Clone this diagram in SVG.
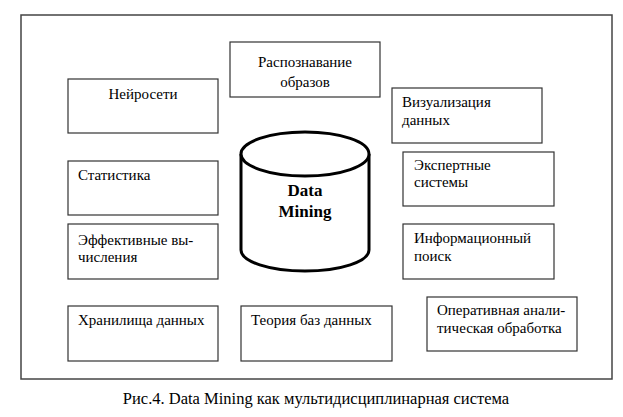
<svg xmlns="http://www.w3.org/2000/svg" width="623" height="417" viewBox="0 0 623 417">
<rect width="623" height="417" fill="#fff"/>
<rect x="21" y="15" width="591" height="364" fill="#fff" stroke="#444" stroke-width="1.5"/>
<g id="connectors"/>
<g fill="#fff" stroke="#333" stroke-width="1.2">
<rect id="r-neuro" x="68" y="79" width="150" height="54"/>
<rect id="r-stat" x="68" y="161" width="150" height="54"/>
<rect id="r-eff" x="68" y="224" width="150" height="55"/>
<rect id="r-store" x="68" y="306" width="150" height="55"/>
<rect id="r-dbtheory" x="241" y="306" width="151" height="55"/>
<rect id="r-pattern" x="230" y="42" width="150" height="55"/>
<rect id="r-vis" x="392" y="88" width="150" height="55"/>
<rect id="r-expert" x="403" y="152" width="151" height="54"/>
<rect id="r-ir" x="403" y="224" width="151" height="55"/>
<rect id="r-olap" x="427" y="297" width="150" height="54"/>
</g>
<g id="n-dm" fill="#fff" stroke="#000" stroke-width="3">
<path d="M241,154 L241,250 A64,21 0 0 0 369,250 L369,154"/>
<ellipse cx="305" cy="154" rx="64" ry="22"/>
</g>
<text x="143" y="99" text-anchor="middle" font-family="'Liberation Serif', monospace" font-size="15">Нейросети</text>
<text x="78" y="180" font-family="'Liberation Serif', monospace" font-size="15">Статистика</text>
<text x="78" y="245" font-family="'Liberation Serif', monospace" font-size="15">Эффективные вы-</text>
<text x="78" y="262" font-family="'Liberation Serif', monospace" font-size="15">числения</text>
<text x="78" y="325" font-family="'Liberation Serif', monospace" font-size="15">Хранилища данных</text>
<text x="251" y="325" font-family="'Liberation Serif', monospace" font-size="15">Теория баз данных</text>
<text x="305" y="67" text-anchor="middle" font-family="'Liberation Serif', monospace" font-size="15">Распознавание</text>
<text x="305" y="87" text-anchor="middle" font-family="'Liberation Serif', monospace" font-size="15">образов</text>
<text x="402" y="107" font-family="'Liberation Serif', monospace" font-size="15">Визуализация</text>
<text x="402" y="125" font-family="'Liberation Serif', monospace" font-size="15">данных</text>
<text x="414" y="170" font-family="'Liberation Serif', monospace" font-size="15">Экспертные</text>
<text x="414" y="187" font-family="'Liberation Serif', monospace" font-size="15">системы</text>
<text x="414" y="243" font-family="'Liberation Serif', monospace" font-size="15">Информационный</text>
<text x="414" y="261" font-family="'Liberation Serif', monospace" font-size="15">поиск</text>
<text x="437" y="315" font-family="'Liberation Serif', monospace" font-size="15">Оперативная анали-</text>
<text x="437" y="333" font-family="'Liberation Serif', monospace" font-size="15">тическая обработка</text>
<text x="305" y="196" text-anchor="middle" font-family="'Liberation Serif', monospace" font-size="17" font-weight="bold">Data</text>
<text x="305" y="217" text-anchor="middle" font-family="'Liberation Serif', monospace" font-size="17" font-weight="bold">Mining</text>
<text x="316" y="404" text-anchor="middle" font-family="'Liberation Serif', monospace" font-size="16.5">Рис.4. Data Mining как мультидисциплинарная система</text>
</svg>
